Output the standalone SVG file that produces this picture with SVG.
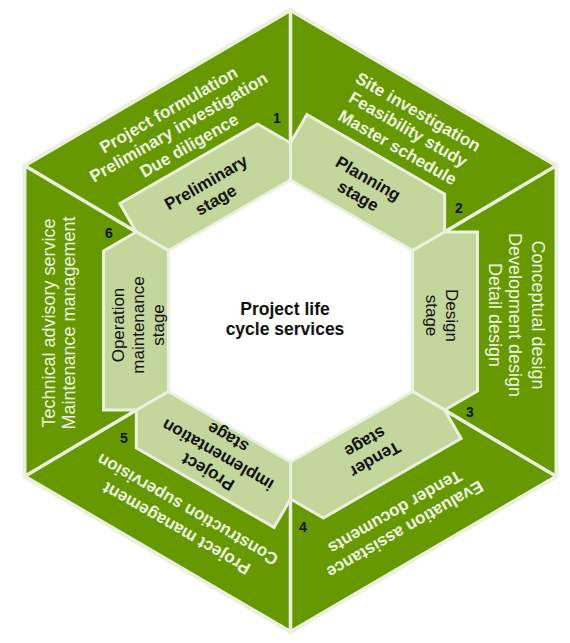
<svg xmlns="http://www.w3.org/2000/svg" width="570" height="643" viewBox="0 0 570 643">
<style>
.bg{fill:#ffffff}
.hex{fill:#669900;stroke:#ebf1de;stroke-width:4;stroke-linejoin:miter}
.div{stroke:#ebf1de;stroke-width:3.5;stroke-linecap:butt}
.ring{fill:#c3d69b;stroke:#ebf1de;stroke-width:3;stroke-linejoin:miter}
.core{fill:#ffffff;stroke:#ebf1de;stroke-width:2}
.lbl{font-family:"Liberation Sans",Arial,sans-serif;font-size:17px;fill:#111111;text-anchor:middle}
.out{font-family:"Liberation Sans",Arial,sans-serif;font-size:17px;fill:#eef5e2;text-anchor:middle}
.reg{font-size:18px}
.b{font-weight:bold}
.num{font-family:"Liberation Sans",Arial,sans-serif;font-size:14px;font-weight:bold;fill:#111111;text-anchor:middle}
.ctr{font-family:"Liberation Sans",Arial,sans-serif;font-size:17.5px;font-weight:bold;fill:#111111;text-anchor:middle}
</style>
<defs>
<polygon id="seg" points="-187,-70 -154.1,-89 -122.1,-70.5 -122.1,70.5 -154.1,89 -187,89"/>
</defs>
<rect class="bg" x="0" y="0" width="570" height="643"/>
<polygon id="outer-hexagon" class="hex" points="290.5,10 556.5,165.5 556.5,476.5 290.5,632 24.5,476.5 24.5,165.5"/>
<g id="connectors">
<line class="div" x1="290.5" y1="10" x2="290.5" y2="143"/>
<line class="div" x1="556.5" y1="165.5" x2="444.6" y2="232"/>
<line class="div" x1="556.5" y1="476.5" x2="444.6" y2="410"/>
<line class="div" x1="290.5" y1="632" x2="290.5" y2="499"/>
<line class="div" x1="24.5" y1="476.5" x2="136.4" y2="410"/>
<line class="div" x1="24.5" y1="165.5" x2="136.4" y2="232"/>
</g>
<polygon id="core-hexagon" class="core" points="290.5,180 412.6,250.5 412.6,391.5 290.5,462 168.4,391.5 168.4,250.5"/>

<g id="node-preliminary" transform="translate(290.5 321) rotate(60)">
<use href="#seg" class="ring"/>
<text class="lbl b" transform="rotate(-90)"><tspan x="-4" y="-156.5">Preliminary</tspan><tspan x="-4" y="-136.5">stage</tspan></text>
</g>
<g id="services-preliminary" transform="translate(290.5 321) rotate(60)">
<text class="out b" transform="rotate(-90)"><tspan x="0" y="-238">Project formulation</tspan><tspan x="0" y="-218">Preliminary investigation</tspan><tspan x="0" y="-197">Due diligence</tspan></text>
</g>

<g id="node-planning" transform="translate(290.5 321) rotate(120)">
<use href="#seg" class="ring"/>
<text class="lbl b" transform="rotate(-90)"><tspan x="-4" y="-156.5">Planning</tspan><tspan x="-4" y="-136.5">stage</tspan></text>
</g>
<g id="services-planning" transform="translate(290.5 321) rotate(120)">
<text class="out b" transform="rotate(-90)"><tspan x="6" y="-239">Site investigation</tspan><tspan x="6" y="-219">Feasibility study</tspan><tspan x="6" y="-198">Master schedule</tspan></text>
</g>

<g id="node-design" transform="translate(290.5 321) rotate(180)">
<use href="#seg" class="ring"/>
<text class="lbl" transform="rotate(-90)"><tspan x="-5.5" y="-155.5">Design</tspan><tspan x="-5.5" y="-135.5">stage</tspan></text>
</g>
<g id="services-design" transform="translate(290.5 321) rotate(180)">
<text class="out reg" transform="rotate(-90)"><tspan x="-6" y="-241">Conceptual design</tspan><tspan x="-6" y="-218">Development design</tspan><tspan x="-6" y="-198">Detail design</tspan></text>
</g>

<g id="node-tender" transform="translate(290.5 321) rotate(240)">
<use href="#seg" class="ring"/>
<text class="lbl b" transform="rotate(-90)"><tspan x="-4" y="-156.5">Tender</tspan><tspan x="-4" y="-136.5">stage</tspan></text>
</g>
<g id="services-tender" transform="translate(290.5 321) rotate(240)">
<text class="out b" transform="rotate(-90)"><tspan x="5" y="-232">Evaluation assistance</tspan><tspan x="5" y="-212">Tender documents</tspan></text>
</g>

<g id="node-implementation" transform="translate(290.5 321) rotate(300)">
<use href="#seg" class="ring"/>
<text class="lbl b" transform="rotate(-90)"><tspan x="-4" y="-166.5">Project</tspan><tspan x="-4" y="-146.5">implementation</tspan><tspan x="-4" y="-126.5">stage</tspan></text>
</g>
<g id="services-implementation" transform="translate(290.5 321) rotate(300)">
<text class="out b" transform="rotate(-90)"><tspan x="-5" y="-231">Project management</tspan><tspan x="-5" y="-209">Construction supervision</tspan></text>
</g>

<g id="node-operation" transform="translate(290.5 321)">
<use href="#seg" class="ring"/>
<text class="lbl" transform="rotate(-90)"><tspan x="-4" y="-166.5">Operation</tspan><tspan x="-4" y="-146.5">maintenance</tspan><tspan x="-4" y="-126.5">stage</tspan></text>
</g>
<g id="services-operation" transform="translate(290.5 321)">
<text class="out reg" transform="rotate(-90)"><tspan x="-2" y="-236">Technical advisory service</tspan><tspan x="-2" y="-216">Maintenance management</tspan></text>
</g>

<g id="step-numbers">
<text class="num" x="277" y="123">1</text>
<text class="num" x="459" y="213">2</text>
<text class="num" x="470" y="417">3</text>
<text class="num" x="303" y="532">4</text>
<text class="num" x="124" y="443">5</text>
<text class="num" x="109" y="238">6</text>
</g>

<g id="node-center">
<text class="ctr" x="285" y="315">Project life</text>
<text class="ctr" x="285" y="335">cycle services</text>
</g>
</svg>
